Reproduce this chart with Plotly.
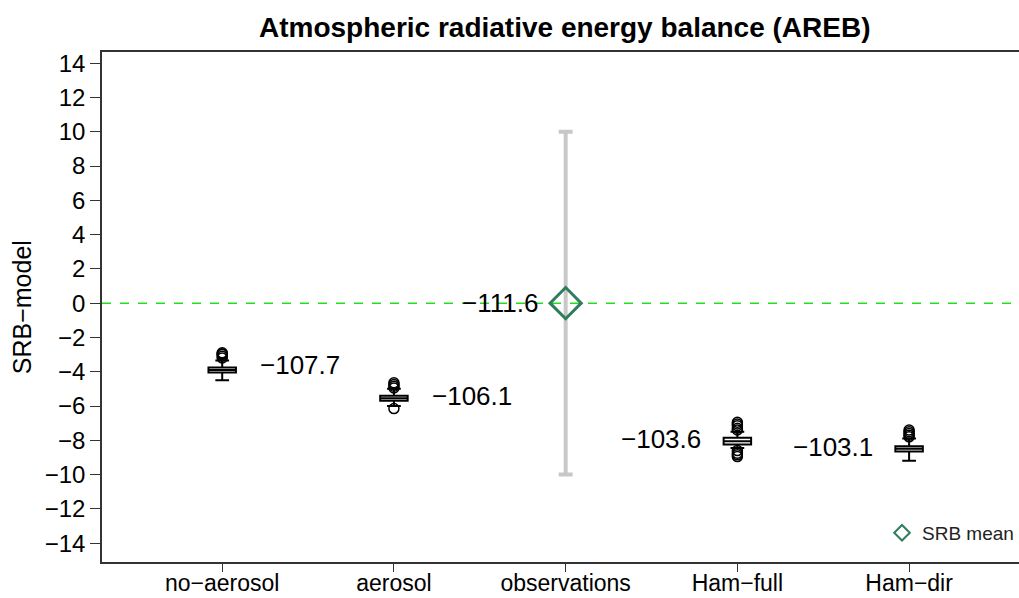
import plotly.graph_objects as go

categories = ["no\u2212aerosol", "aerosol", "observations", "Ham\u2212full", "Ham\u2212dir"]
positions = [1, 2, 3, 4, 5]

# box statistics for model runs (SRB - model)
box_pos = [1, 2, 4, 5]
box_lower = [-4.5, -6.0, -8.45, -9.2]
box_q1 = [-4.05, -5.7, -8.25, -8.65]
box_median = [-3.9, -5.55, -8.05, -8.5]
box_q3 = [-3.75, -5.4, -7.85, -8.35]
box_upper = [-3.35, -5.0, -7.5, -7.9]
outliers = [
    [-3.2, -3.1, -3.0, -2.95, -2.9],
    [-4.95, -4.85, -4.75, -4.65, -6.15],
    [-7.4, -7.3, -7.15, -7.05, -6.95, -8.6, -8.75, -8.85, -8.95],
    [-7.8, -7.7, -7.6, -7.5, -7.4],
]

# value labels (AREB)
label_text = ["\u2212107.7", "\u2212106.1", "\u2212111.6", "\u2212103.6", "\u2212103.1"]
label_x = [1.21, 2.21, 2.85, 3.8, 4.8]
label_y = [-3.6, -5.4, 0.0, -7.95, -8.4]
label_anchor = ["left", "left", "right", "right", "right"]

obs_x = [3]
obs_mean = [0]
obs_err = [10]

yticks = list(range(-14, 15, 2))

FONT = "Liberation Sans, Arial, sans-serif"

fig = go.Figure()

fig.add_hline(y=0, line=dict(color="#22dd22", width=1.5, dash="dash"), layer="below")

for i, p in enumerate(box_pos):
    fig.add_trace(go.Box(
        x=[p], q1=[box_q1[i]], median=[box_median[i]], q3=[box_q3[i]],
        lowerfence=[box_lower[i]], upperfence=[box_upper[i]],
        width=0.16, whiskerwidth=0.5,
        line=dict(color="black", width=2), fillcolor="white",
        boxpoints=False, showlegend=False, hoverinfo="skip",
    ))
    fig.add_trace(go.Scatter(
        x=[p] * len(outliers[i]), y=outliers[i], mode="markers",
        marker=dict(symbol="circle-open", size=10, color="black", line=dict(width=1.5)),
        showlegend=False, hoverinfo="skip",
    ))

fig.add_trace(go.Scatter(
    x=obs_x, y=obs_mean, mode="markers",
    marker=dict(size=1, color="rgba(0,0,0,0)"),
    error_y=dict(type="data", array=obs_err, symmetric=True, color="#c8c8c8", thickness=4, width=7),
    showlegend=False, hoverinfo="skip",
))
fig.add_trace(go.Scatter(
    x=obs_x, y=obs_mean, mode="markers", name="SRB mean",
    marker=dict(symbol="diamond-open", size=24, color="#2e7d5b", line=dict(width=3)),
    showlegend=True,
))

for t, x, y, a in zip(label_text, label_x, label_y, label_anchor):
    fig.add_annotation(x=x, y=y, text=t, showarrow=False, xanchor=a, yanchor="middle",
                       font=dict(size=26, color="black", family=FONT))

fig.add_annotation(xref="paper", yref="paper", x=0.505, y=1.0, yshift=25,
                   text="<b>Atmospheric radiative energy balance (AREB)</b>",
                   showarrow=False, xanchor="center", yanchor="middle",
                   font=dict(size=28, color="black", family=FONT))
fig.add_annotation(xref="paper", yref="paper", x=-0.087, y=0.5, text="SRB\u2212model", textangle=-90,
                   showarrow=False, xanchor="center", yanchor="middle",
                   font=dict(size=25, color="black", family=FONT))

fig.update_layout(
    width=1019, height=598,
    margin=dict(l=102, r=0, t=52, b=36, autoexpand=False),
    paper_bgcolor="white", plot_bgcolor="white",
    font=dict(family=FONT, color="black"),
    showlegend=True,
    legend=dict(x=1.0, y=0.057, xanchor="right", yanchor="middle", itemsizing="constant",
                font=dict(size=19, color="#222"), bgcolor="rgba(0,0,0,0)",
                itemwidth=30, tracegroupgap=0),
    xaxis=dict(range=[0.3, 5.64], tickmode="array", tickvals=positions, ticktext=categories,
               automargin=False, ticklabelstandoff=-8,
               showgrid=False, zeroline=False, showline=True, linecolor="#333", linewidth=1.5,
               mirror=True, ticks="outside", ticklen=8, tickcolor="#333",
               tickfont=dict(size=23, color="black")),
    yaxis=dict(range=[-15.1, 14.65], tickmode="array", tickvals=yticks,
               automargin=False,
               ticktext=[("\u2212" + str(-v)) if v < 0 else str(v) for v in yticks],
               showgrid=False, zeroline=False, showline=True, linecolor="#333", linewidth=1.5,
               ticks="outside", ticklen=10, tickcolor="#333",
               tickfont=dict(size=24, color="black")),
)

fig.write_html("out.html")
